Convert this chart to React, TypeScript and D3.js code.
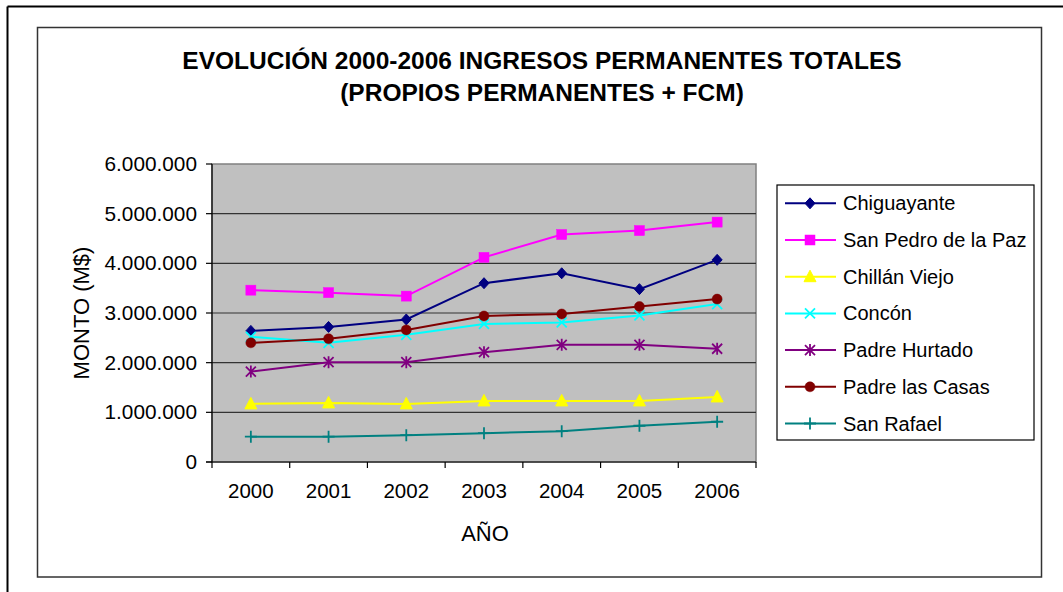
import React from "react";
import * as d3 from "d3";

const years = ["2000", "2001", "2002", "2003", "2004", "2005", "2006"];
const yTicks = [0, 1000000, 2000000, 3000000, 4000000, 5000000, 6000000];

const chiguayante = [2640000, 2720000, 2870000, 3600000, 3800000, 3480000, 4070000];
const sanPedro = [3460000, 3410000, 3340000, 4120000, 4580000, 4660000, 4830000];
const chillanViejo = [1170000, 1190000, 1170000, 1230000, 1230000, 1230000, 1310000];
const concon = [2520000, 2400000, 2560000, 2780000, 2810000, 2950000, 3180000];
const padreHurtado = [1820000, 2010000, 2010000, 2210000, 2360000, 2360000, 2280000];
const padreLasCasas = [2400000, 2480000, 2660000, 2940000, 2980000, 3130000, 3280000];
const sanRafael = [510000, 510000, 540000, 580000, 620000, 730000, 810000];

const seriesNames = [
  "Chiguayante",
  "San Pedro de la Paz",
  "Chillán Viejo",
  "Concón",
  "Padre Hurtado",
  "Padre las Casas",
  "San Rafael",
];
const seriesValues = [chiguayante, sanPedro, chillanViejo, concon, padreHurtado, padreLasCasas, sanRafael];
const seriesColors = ["#000080", "#FF00FF", "#FFFF00", "#00FFFF", "#800080", "#800000", "#008080"];
const seriesMarkers = ["diamond", "square", "triangle", "x", "star", "circle", "plus"];

const FONT = "Arial, 'Liberation Sans', sans-serif";

const locale = d3.formatLocale({ decimal: ",", thousands: ".", grouping: [3], currency: ["$", ""] });
const fmt = locale.format(",");

function Marker({ type, color, cx, cy }: { type: string; color: string; cx: number; cy: number }) {
  const t = `translate(${cx},${cy})`;
  if (type === "diamond") {
    return <path transform={t} d="M0,-5.5L5,0L0,5.5L-5,0Z" fill={color} stroke={color} strokeWidth={1} />;
  }
  if (type === "square") {
    return <rect x={cx - 5} y={cy - 5} width={10} height={10} fill={color} stroke={color} strokeWidth={0.5} />;
  }
  if (type === "triangle") {
    return <path transform={t} d="M0,-6.5L6,5L-6,5Z" fill={color} stroke={color} strokeWidth={1} />;
  }
  if (type === "circle") {
    return <circle cx={cx} cy={cy} r={5} fill={color} stroke={color} strokeWidth={0.5} />;
  }
  if (type === "x") {
    return <path transform={t} d="M-5,-5L5,5M-5,5L5,-5" fill="none" stroke={color} strokeWidth={1.8} />;
  }
  if (type === "star") {
    return (
      <path transform={t} d="M-5,-5L5,5M-5,5L5,-5M0,-6L0,6" fill="none" stroke={color} strokeWidth={1.8} />
    );
  }
  return <path transform={t} d="M-6,0L6,0M0,-6L0,6" fill="none" stroke={color} strokeWidth={1.8} />;
}

export default function App() {
  const W = 1063;
  const H = 592;
  const plot = { left: 212, right: 756, top: 164, bottom: 462 };

  const x = d3.scaleBand<string>().domain(years).range([plot.left, plot.right]).padding(0);
  const y = d3.scaleLinear().domain([0, 6000000]).range([plot.bottom, plot.top]);
  const cx = (yr: string) => (x(yr) as number) + x.bandwidth() / 2;

  const line = d3
    .line<number>()
    .x((_, i) => cx(years[i]))
    .y((v) => y(v));

  const legend = { x: 777, y: 185, w: 257, h: 255, first: 203.3, step: 36.7 };

  const boundaries = years.map((yr) => x(yr) as number).concat([plot.right]);

  return (
    <svg
      width={W}
      height={H}
      style={{ position: "absolute", left: 0, top: 0, background: "#fff" }}
      fontFamily={FONT}
    >
      <rect x={0} y={0} width={W} height={H} fill="#fff" />
      {/* outer frame */}
      <line x1={7.5} y1={6.5} x2={W} y2={6.5} stroke="#000" strokeWidth={2} />
      <line x1={7.5} y1={6.5} x2={7.5} y2={H} stroke="#000" strokeWidth={2} />
      {/* chart area */}
      <rect x={37.5} y={27.5} width={1004} height={549.5} fill="#fff" stroke="#333" strokeWidth={1.5} />

      {/* title */}
      <text x={542} y={68.5} textAnchor="middle" fontSize={24.5} fontWeight="bold" fill="#000">
        EVOLUCIÓN 2000-2006 INGRESOS PERMANENTES TOTALES
      </text>
      <text x={542} y={100.5} textAnchor="middle" fontSize={24.5} fontWeight="bold" fill="#000">
        (PROPIOS PERMANENTES + FCM)
      </text>

      {/* plot background */}
      <rect
        x={plot.left}
        y={plot.top}
        width={plot.right - plot.left}
        height={plot.bottom - plot.top}
        fill="#C0C0C0"
        stroke="#808080"
        strokeWidth={1.5}
      />
      {/* gridlines */}
      {yTicks.slice(1, -1).map((t) => (
        <line key={t} x1={plot.left} x2={plot.right} y1={y(t)} y2={y(t)} stroke="#333" strokeWidth={1.2} />
      ))}
      {/* axes */}
      <line x1={plot.left} x2={plot.left} y1={plot.top} y2={plot.bottom} stroke="#000" strokeWidth={1.2} />
      <line x1={plot.left - 6} x2={plot.right} y1={plot.bottom} y2={plot.bottom} stroke="#000" strokeWidth={1.2} />
      {yTicks.map((t) => (
        <g key={"yt" + t}>
          <line x1={plot.left - 6} x2={plot.left} y1={y(t)} y2={y(t)} stroke="#000" strokeWidth={1.2} />
          <text x={197} y={y(t) + 7} textAnchor="end" fontSize={20.8} fill="#000">
            {fmt(t)}
          </text>
        </g>
      ))}
      {boundaries.map((b, i) => (
        <line key={"xt" + i} x1={b} x2={b} y1={plot.bottom} y2={plot.bottom + 6} stroke="#000" strokeWidth={1.2} />
      ))}
      {years.map((yr) => (
        <text key={yr} x={cx(yr)} y={498} textAnchor="middle" fontSize={20.5} fill="#000">
          {yr}
        </text>
      ))}

      {/* axis titles */}
      <text x={485} y={541} textAnchor="middle" fontSize={22} fill="#000">
        AÑO
      </text>
      <text
        transform={`translate(89,${(plot.top + plot.bottom) / 2}) rotate(-90)`}
        textAnchor="middle"
        fontSize={22}
        fill="#000"
      >
        MONTO (M$)
      </text>

      {/* series */}
      {seriesValues.map((vals, si) => (
        <g key={seriesNames[si]}>
          <path d={line(vals) as string} fill="none" stroke={seriesColors[si]} strokeWidth={2} />
          {vals.map((v, i) => (
            <Marker key={i} type={seriesMarkers[si]} color={seriesColors[si]} cx={cx(years[i])} cy={y(v)} />
          ))}
        </g>
      ))}

      {/* legend */}
      <rect x={legend.x} y={legend.y} width={legend.w} height={legend.h} fill="#fff" stroke="#000" strokeWidth={1.2} />
      {seriesNames.map((name, si) => {
        const ly = legend.first + si * legend.step;
        return (
          <g key={"lg" + name}>
            <line x1={785} x2={836} y1={ly} y2={ly} stroke={seriesColors[si]} strokeWidth={2} />
            <Marker type={seriesMarkers[si]} color={seriesColors[si]} cx={810} cy={ly} />
            <text x={843} y={ly + 7} fontSize={20} fill="#000">
              {name}
            </text>
          </g>
        );
      })}
    </svg>
  );
}
